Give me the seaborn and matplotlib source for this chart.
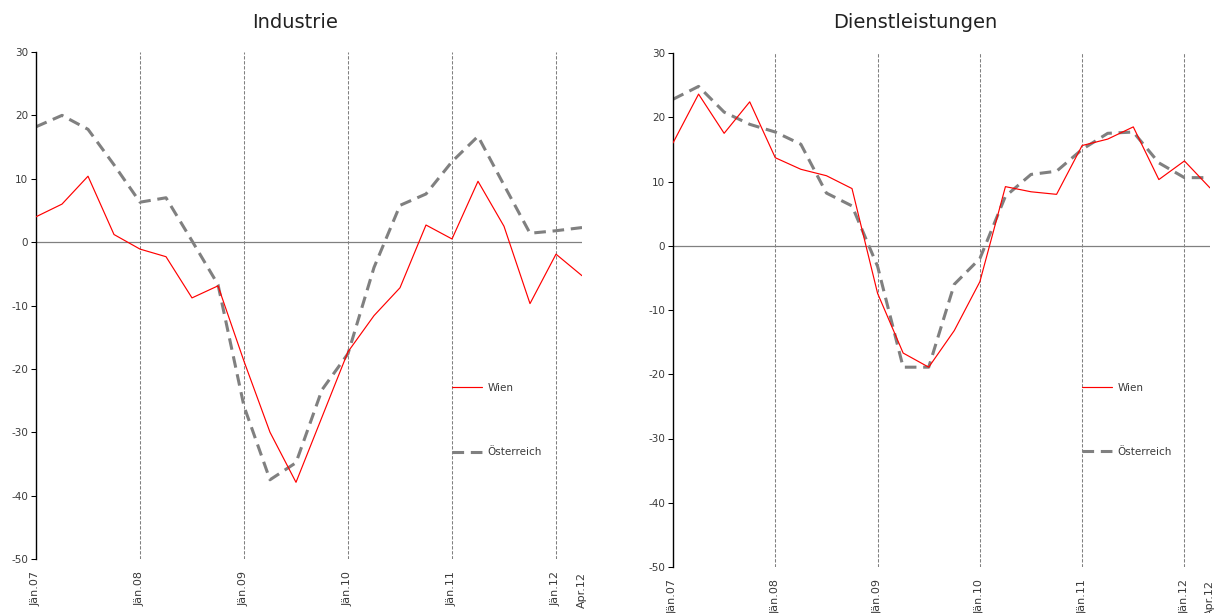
import numpy as np
import pandas as pd
import matplotlib
matplotlib.use("Agg")
import matplotlib.pyplot as plt
import seaborn as sns

# Quartale Jän.07 bis Apr.12
quartale = [
    "Jän.07", "Apr.07", "Jul.07", "Okt.07",
    "Jän.08", "Apr.08", "Jul.08", "Okt.08",
    "Jän.09", "Apr.09", "Jul.09", "Okt.09",
    "Jän.10", "Apr.10", "Jul.10", "Okt.10",
    "Jän.11", "Apr.11", "Jul.11", "Okt.11",
    "Jän.12", "Apr.12",
]
achsen_labels = ["Jän.07", "Jän.08", "Jän.09", "Jän.10", "Jän.11", "Jän.12", "Apr.12"]
trennlinien = ["Jän.08", "Jän.09", "Jän.10", "Jän.11", "Jän.12"]

# Industrie
industrie_wien = [4.0, 6.0, 10.4, 1.2, -1.1, -2.3, -8.8, -6.9, -18.8, -30.0, -37.9,
                  -27.6, -17.3, -11.6, -7.2, 2.7, 0.5, 9.6, 2.5, -9.7, -1.9, -5.3]
industrie_oesterreich = [18.2, 20.0, 17.8, 12.2, 6.3, 7.0, 0.2, -6.7, -25.9, -37.5, -34.8,
                         -23.3, -17.6, -4.0, 5.8, 7.6, 12.7, 16.7, 9.0, 1.4, 1.8, 2.3]

# Dienstleistungen
dienst_wien = [16.0, 23.6, 17.5, 22.4, 13.7, 11.9, 10.9, 8.9, -7.4, -16.7, -18.9,
               -13.2, -5.6, 9.2, 8.4, 8.0, 15.6, 16.6, 18.5, 10.3, 13.2, 9.0]
dienst_oesterreich = [22.8, 24.8, 20.8, 18.9, 17.7, 15.8, 8.2, 6.2, -3.2, -18.9, -18.9,
                      -6.0, -2.0, 7.7, 11.1, 11.6, 15.0, 17.5, 17.7, 12.9, 10.6, 10.6]

sns.set_style("white")
plt.rcParams["font.family"] = ["DejaVu Sans"]
plt.rcParams["axes.unicode_minus"] = False

TEXT = "#3a3a3a"
GRAU = "#808080"

fig = plt.figure(figsize=(12.15, 6.13), dpi=100)
W, H = 1215, 613


def panel(rect, wien, oest, legend_y):
    ax = fig.add_axes(rect)
    x = np.arange(len(quartale))
    df = pd.DataFrame({"q": x, "Wien": wien, "Österreich": oest})

    for q in trennlinien:
        ax.axvline(quartale.index(q), color=GRAU, lw=0.75,
                   linestyle=(0, (3.2, 1.6)), zorder=1)
    ax.axhline(0, color=GRAU, lw=0.9, zorder=1)

    sns.lineplot(data=df, x="q", y="Österreich", ax=ax, color=GRAU, lw=2.2,
                 linestyle=(0, (3.8, 2.2)), label="Österreich", legend=False,
                 zorder=2)
    sns.lineplot(data=df, x="q", y="Wien", ax=ax, color="#ff0000", lw=0.85,
                 label="Wien", legend=False, zorder=3)

    ax.set_xlim(0, len(quartale) - 1)
    ax.set_ylim(-50, 30)
    ax.set_yticks(range(-50, 31, 10))
    ax.set_xticks([quartale.index(t) for t in achsen_labels])
    ax.set_xticklabels(achsen_labels, rotation=90, va="top", ha="center")
    ax.set_xlabel("")
    ax.set_ylabel("")

    for s in ["top", "right", "bottom"]:
        ax.spines[s].set_visible(False)
    ax.spines["left"].set_color("black")
    ax.spines["left"].set_linewidth(1.0)
    ax.tick_params(axis="y", direction="out", length=3.6, width=0.75,
                   color="black", pad=2, labelsize=7.5, labelcolor=TEXT, left=True)
    ax.tick_params(axis="x", length=0, pad=9, labelsize=8, labelcolor=TEXT)

    lines = {l.get_label(): l for l in ax.get_lines()}
    ax.legend([lines["Wien"], lines["Österreich"]], ["Wien", "Österreich"],
              loc="center left", bbox_to_anchor=(0.762, legend_y),
              frameon=False, fontsize=7.5, handlelength=2.9,
              handletextpad=0.5, labelspacing=5.2, borderpad=0,
              borderaxespad=0, labelcolor=TEXT)
    return ax


ax1 = panel([36 / W, (H - 559) / H, 546 / W, 507 / H],
            industrie_wien, industrie_oesterreich, 0.274)
ax2 = panel([673 / W, (H - 567) / H, 537 / W, 514 / H],
            dienst_wien, dienst_oesterreich, 0.286)

fig.text(295 / W, 1 - 23 / H, "Industrie", ha="center", va="center",
         fontsize=14, color="#222222")
fig.text(915 / W, 1 - 23 / H, "Dienstleistungen", ha="center", va="center",
         fontsize=14, color="#222222")

fig.savefig("out.png", dpi=100)
